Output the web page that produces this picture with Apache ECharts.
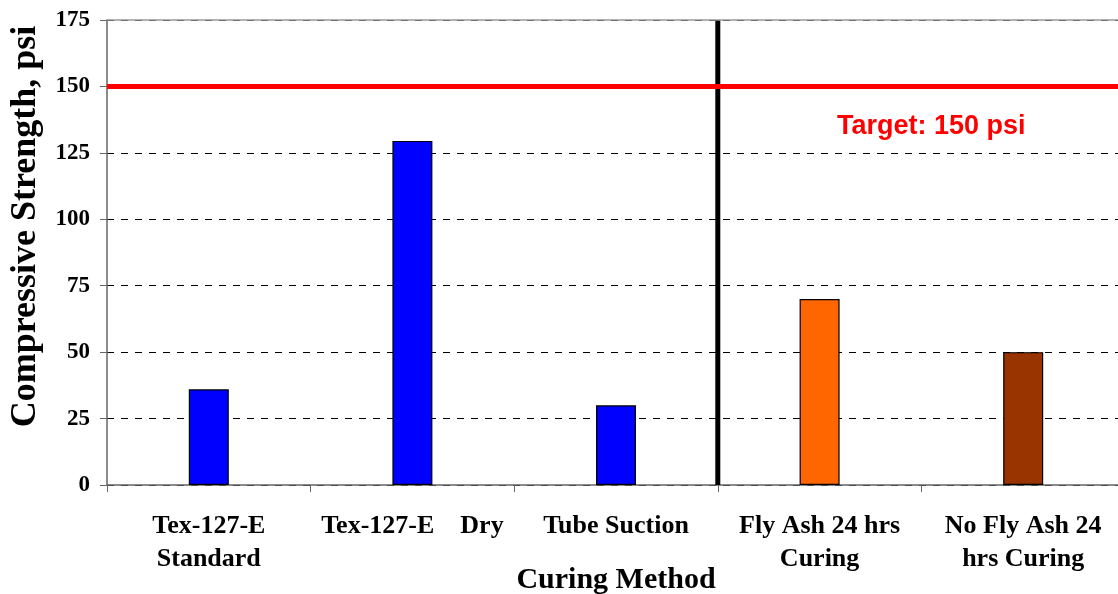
<!DOCTYPE html>
<html><head><meta charset="utf-8">
<script src="https://cdn.jsdelivr.net/npm/echarts@6/dist/echarts.min.js"></script>
<style>html,body{margin:0;padding:0;background:#fff}#c{width:1118px;height:594px}</style>
</head><body><div id="c"></div>
<script>
const categories = ['Tex-127-E\nStandard', 'Tex-127-E    Dry', 'Tube Suction', 'Fly Ash 24 hrs\nCuring', 'No Fly Ash 24\nhrs Curing'];
const strengths = [36, 129.5, 30, 70, 50];
const barColors = ['#0000FF', '#0000FF', '#0000FF', '#FF6600', '#993300'];
const target = 150;
const dividerX = [3, 3];
const dividerY = [0, 175];
const yTicks = {min: 0, max: 175, interval: 25};

const chart = echarts.init(document.getElementById('c'));
const serif = '"Liberation Serif","Times New Roman",serif';
chart.setOption({
  animation: false,
  grid: {left: 107, top: 20, width: 1018, height: 465, containLabel: false, outerBoundsMode: 'none'},
  xAxis: [{
    type: 'category', data: categories,
    axisLine: {lineStyle: {color: '#666', width: 1.5}},
    axisTick: {show: true, length: 7, lineStyle: {color: '#666'}},
    axisLabel: {color: '#000', fontFamily: serif, fontWeight: 'bold', fontSize: 26, lineHeight: 33, margin: 25, interval: 0},
    name: 'Curing Method', nameLocation: 'middle', nameGap: 95, nameMoveOverlap: false,
    nameTextStyle: {color: '#000', fontFamily: serif, fontWeight: 'bold', fontSize: 30, verticalAlign: 'middle'}
  }, {
    type: 'value', min: 0, max: 5, show: false
  }],
  yAxis: {
    type: 'value', min: yTicks.min, max: yTicks.max, interval: yTicks.interval,
    axisLine: {show: true, lineStyle: {color: '#666', width: 1.5}},
    axisTick: {show: true, length: 7, lineStyle: {color: '#666'}},
    axisLabel: {color: '#000', fontFamily: serif, fontWeight: 'bold', fontSize: 23, margin: 17},
    splitLine: {show: true, lineStyle: {color: '#000', type: [7, 7], width: 1}},
    name: 'Compressive Strength, psi', nameLocation: 'middle', nameGap: 63, nameRotate: 90, nameMoveOverlap: false,
    nameTextStyle: {color: '#000', fontFamily: serif, fontWeight: 'bold', fontSize: 36, padding: [0, 0, 0, 52]}
  },
  series: [{
    type: 'bar', xAxisIndex: 0, barWidth: 40,
    data: strengths.map((v, i) => ({value: v, itemStyle: {color: barColors[i]}})),
    itemStyle: {borderColor: '#000', borderWidth: 1.2},
    markLine: {
      symbol: 'none', silent: true, animation: false,
      data: [
        {yAxis: 175, lineStyle: {color: '#999', width: 1.5, type: 'solid'}, label: {show: false}},
        {yAxis: target, lineStyle: {color: '#FF0000', width: 5, type: 'solid'}, label: {show: false}}
      ]
    },
    z: 3
  }, {
    type: 'line', xAxisIndex: 1, symbol: 'none',
    data: [[dividerX[0], dividerY[0]], [dividerX[1], dividerY[1]]],
    lineStyle: {color: '#000', width: 5}, z: 4
  }],
  graphic: [{
    type: 'text', left: 837, top: 113,
    style: {text: 'Target: 150 psi', fill: '#FF0000', font: 'bold 27px "Liberation Sans", Arial, sans-serif'}
  }]
});
</script></body></html>
